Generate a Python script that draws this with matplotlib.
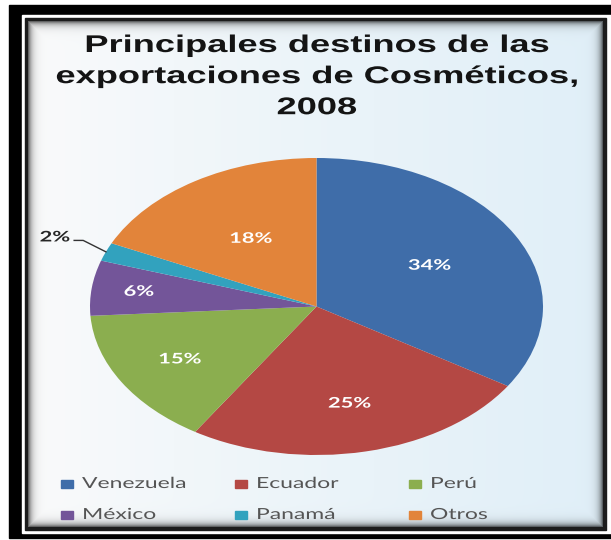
import numpy as np
import matplotlib
matplotlib.use("Agg")
import matplotlib.pyplot as plt
from matplotlib.patches import Rectangle
from matplotlib.patheffects import AbstractPathEffect
from matplotlib.transforms import Affine2D

# Export destinations, share of total (%)
categories = ["Venezuela", "Ecuador", "Perú", "México", "Panamá", "Otros"]
shares = [34, 25, 15, 6, 2, 18]
colors = ["#3F6DA9", "#B44844", "#8BAE4F", "#735599", "#32A2BE", "#E2843A"]
title = "Principales destinos de las\nexportaciones de Cosméticos,\n2008"

# Radial position of each percentage label (fraction of the radius)
label_radius = [0.57, 0.67, 0.70, 0.79, None, 0.54]
STRETCH = 1.5


class HStretch(AbstractPathEffect):
    """Widen glyph outlines horizontally, about the line centre or its left edge."""

    def __init__(self, sx, anchor="center"):
        super().__init__()
        self.sx = sx
        self.anchor = anchor

    def draw_path(self, renderer, gc, tpath, affine, rgbFace=None):
        ext = tpath.get_extents()
        cx = 0.0 if self.anchor == "left" else (ext.x0 + ext.x1) / 2
        pre = Affine2D().translate(-cx, 0).scale(self.sx, 1).translate(cx, 0)
        renderer.draw_path(gc, tpath, pre + affine, rgbFace)


fig = plt.figure(figsize=(6.11, 5.40), dpi=100, facecolor="white")

# Frame and background, laid out in pixel coordinates
bg = fig.add_axes([0, 0, 1, 1], zorder=0)
bg.axis("off")
bg.add_patch(Rectangle((9, 5), 610, 533, color="black", zorder=0))
bg.add_patch(Rectangle((22, 15), 600, 518, color="white", zorder=0.1))
bg.add_patch(Rectangle((25, 18), 581, 512, color="#1c1c1c", zorder=0.2))

H, W = 506, 575
yy, xx = np.mgrid[0:H, 0:W]
t = (xx / (W - 1)) ** 0.8
c_left = np.array([251, 251, 251]) / 255
c_right = np.array([224, 239, 248]) / 255
base = c_left + (c_right - c_left) * t[..., None]
d = np.minimum.reduce([xx, yy, W - 1 - xx, H - 1 - yy]).astype(float)
shade = 1 - 0.6 * np.exp(-d / 3.5)
img = np.clip(base * shade[..., None], 0, 1)
bg.imshow(img, extent=(28, 603, 527, 21), interpolation="bilinear", zorder=0.3)
bg.set_aspect("auto")
bg.set_xlim(0, 611)
bg.set_ylim(540, 0)

# Title
bg.text(317, 34, title, ha="center", va="top", fontsize=17.4,
        fontweight="bold", family="Liberation Sans", color="#141414",
        linespacing=1.45, zorder=2,
        path_effects=[HStretch(STRETCH)])

# Pie
ax = fig.add_axes([90 / 611, 85 / 540, 453 / 611, 297 / 540], zorder=1)
wedges, _ = ax.pie(shares, colors=colors, startangle=90, counterclock=False,
                   radius=1.0, wedgeprops=dict(linewidth=0))
ax.set_aspect("auto")
ax.set_xlim(-1, 1)
ax.set_ylim(-1, 1)
ax.patch.set_visible(False)
ax.axis("off")

for w, val, r in zip(wedges, shares, label_radius):
    mid = np.deg2rad((w.theta1 + w.theta2) / 2)
    if r is not None:
        ax.text(r * np.cos(mid), r * np.sin(mid), f"{val}%", ha="center",
                va="center", color="white", fontsize=10.5, fontweight="bold",
                family="Lato", path_effects=[HStretch(STRETCH)])
    else:
        # small slice: label outside with a leader line
        ex, ey = np.cos(mid), np.sin(mid)
        elbow = (-1.03, 0.445)
        ax.plot([ex, elbow[0], elbow[0] - 0.04], [ey, elbow[1], elbow[1]],
                color="#333333", lw=1.0, clip_on=False)
        ax.text(elbow[0] - 0.125, elbow[1] + 0.02, f"{val}%", ha="center",
                va="center", color="#262626", fontsize=10.5,
                fontweight="bold", family="Lato",
                path_effects=[HStretch(STRETCH)])

# Legend, two rows of three entries
col_x = [61, 235, 409]
row_y = [484, 515]
for i, (name, col) in enumerate(zip(categories, colors)):
    x0 = col_x[i % 3]
    y0 = row_y[i // 3]
    bg.add_patch(Rectangle((x0, y0 - 4), 12, 8, color=col, zorder=2))
    bg.text(x0 + 21, y0, name, ha="left", va="center", fontsize=11,
            family="Lato", color="#555555", zorder=2,
            path_effects=[HStretch(STRETCH, anchor="left")])

fig.savefig("out.png", dpi=100, facecolor="white")
